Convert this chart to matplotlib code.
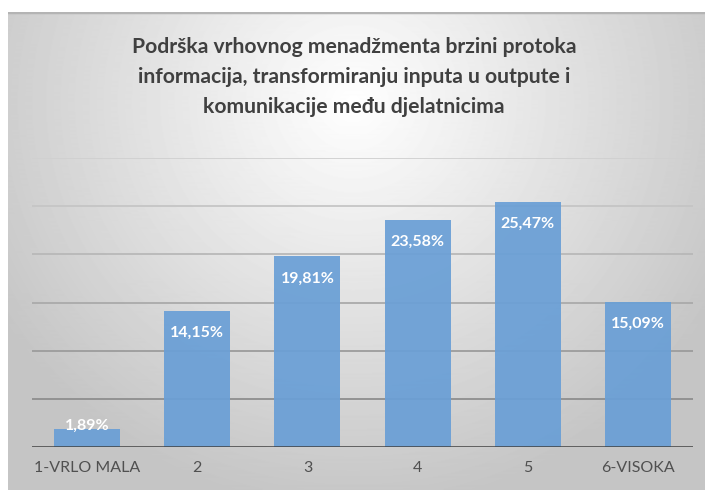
import numpy as np
import matplotlib
matplotlib.use("Agg")
import matplotlib.pyplot as plt

categories = ["1-VRLO MALA", "2", "3", "4", "5", "6-VISOKA"]
values = [1.89, 14.15, 19.81, 23.58, 25.47, 15.09]
value_labels = ["1,89%", "14,15%", "19,81%", "23,58%", "25,47%", "15,09%"]
grid_levels = [5, 10, 15, 20, 25, 30]
grid_colors = ["#8e8e8e", "#9c9c9c", "#aaaaaa", "#b8b8b8", "#c5c5c5", "#d0d0d0"]

title = ("Podrška vrhovnog menadžmenta brzini protoka\n"
         "informacija, transformiranju inputa u outpute i\n"
         "komunikacije među djelatnicima")

plt.rcParams["font.family"] = ["Lato", "DejaVu Sans"]

W, H = 705, 490
fig = plt.figure(figsize=(W / 100, H / 100), dpi=100)
fig.patch.set_facecolor("white")

# radial grey backdrop of the chart area
bg = fig.add_axes([8 / W, 0, (W - 8) / W, (H - 12) / H], zorder=-2)
yy, xx = np.mgrid[0:478, 0:697]
d = np.sqrt(((xx - 345) / 420.0) ** 2 + ((yy - 90) / 410.0) ** 2)
shade = np.clip(1.0 - 0.23 * d, 0.77, 1.0)
bg.imshow(shade, cmap="gray", vmin=0, vmax=1, aspect="auto",
          extent=[0, 1, 0, 1], origin="upper")
bg.axhline(1, color="#b4b4b4", lw=2.5)
bg.set_xlim(0, 1)
bg.set_ylim(0, 1)
bg.axis("off")

ax = fig.add_axes([32 / W, (H - 447) / H, (693 - 32) / W, (447 - 158) / H])
ax.patch.set_alpha(0)
x = np.arange(len(categories))

for lvl, c in zip(grid_levels, grid_colors):
    ax.axhline(lvl, color=c, lw=1.3, zorder=1)

ax.bar(x, values, width=0.6, color="#6a9fd6", alpha=0.93, zorder=2)
ax.axhline(0, color="#404040", lw=1.8, zorder=3)

for xi, v, lab in zip(x, values, value_labels):
    off = -16 if v > 5 else 2
    ax.annotate(lab, (xi, v), xytext=(0, off), textcoords="offset points",
                ha="center", va="center", color="white",
                fontsize=11.5, fontweight="bold", zorder=4)

ax.set_xlim(-0.5, len(categories) - 0.5)
ax.set_ylim(0, 30)
ax.set_xticks(x)
ax.set_xticklabels(categories, fontsize=11.5, color="#505050")
ax.tick_params(axis="x", length=0, pad=10)
ax.set_yticks([])
for s in ax.spines.values():
    s.set_visible(False)

fig.text(354 / W, 1 - 77 / H, title, ha="center", va="center",
         fontsize=15.2, fontweight="bold", color="#404040", linespacing=1.6)

fig.savefig("out.png", dpi=100)
